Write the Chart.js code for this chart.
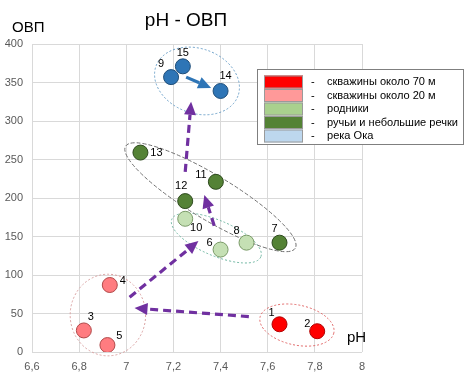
<!DOCTYPE html>
<html><head><meta charset="utf-8">
<script src="https://cdn.jsdelivr.net/npm/chart.js@4/dist/chart.umd.min.js"></script>
<style>html,body{margin:0;padding:0;background:#fff}#wrap{width:466px;height:377px;position:relative}</style>
</head><body><div id="wrap"><canvas id="c" width="466" height="377"></canvas></div>
<script>
// ---- data ----
const seriesNames = ['скважины около 70 м','скважины около 20 м','родники','ручьи и небольшие речки','река Ока'];
const labels70 = ['1','2'];      const pH70 = [7.65, 7.81];            const orp70 = [36, 27];
const labels20 = ['3','4','5'];  const pH20 = [6.82, 6.93, 6.92];      const orp20 = [28, 87, 9];
const labelsSpr = ['6','8','10']; const pHSpr = [7.40, 7.51, 7.25];   const orpSpr = [133, 142, 173];
const labelsStr = ['7','11','12','13']; const pHStr = [7.65, 7.38, 7.25, 7.06]; const orpStr = [142, 221, 196, 259];
const labelsOka = ['9','14','15']; const pHOka = [7.19, 7.40, 7.24]; const orpOka = [357, 339, 371];
const xTickValues = [6.6, 6.8, 7.0, 7.2, 7.4, 7.6, 7.8, 8.0];
const xTickLabels = ['6,6','6,8','7','7,2','7,4','7,6','7,8','8'];
// arrows (from pH, from ORP, to pH, to ORP)
const arrowsPurple = [[7.52,46,7.035,57],[7.014,71,7.306,144],[7.373,164,7.331,204],[7.25,234,7.275,325]];
const arrowBlue = [7.254,357,7.36,343];
// group ellipses: centre pH, centre ORP, half-width pH, half-height ORP
const ellipseCentres = [[7.724,35],[6.922,48],[7.382,148],[7.357,201],[7.30,352]];
const ellipseHalfAxes = [[0.16,26],[0.16,53],[0.205,23],[0.42,29],[0.185,42]];

const pointColors = ['#FF0000','#FF7C80','#C5E0B4','#548235','#2E75B6'];
const borderColors = ['#B00000','#B04848','#7A9A68','#2E4A1E','#1F4E79'];
const swatchColors = ['#FF0000','#FF9999','#A9D18E','#548235','#BDD7EE'];
const ellipseStyle = [
  {color:'#E06666', dash:[2,2], rot:12},
  {color:'#D9A0A0', dash:[2,2], rot:0},
  {color:'#6DB5A0', dash:[2,2], rot:23},
  {color:'#707070', dash:[4,2], rot:31},
  {color:'#6A9FC8', dash:[2,2], rot:20}
];
const labelOffsets = {
  '1':[-8,-11],'2':[-10,-7],'3':[7,-13],'4':[13,-4],'5':[12,-9],'6':[-11,-7],'10':[11,9],'12':[-4,-15],
  '8':[-10,-12],'7':[-5,-14],'11':[-15,-7],'13':[16,0],'9':[-10,-13],'15':[0,-13],'14':[5,-15]
};

function pts(xs, ys){ return xs.map((x,i)=>({x:x,y:ys[i]})); }
const groups = [
  {lab:labels70, data:pts(pH70,orp70)},
  {lab:labels20, data:pts(pH20,orp20)},
  {lab:labelsSpr, data:pts(pHSpr,orpSpr)},
  {lab:labelsStr, data:pts(pHStr,orpStr)},
  {lab:labelsOka, data:pts(pHOka,orpOka)}
];

function drawArrow(ctx, x1,y1,x2,y2, color, dash){
  const ang = Math.atan2(y2-y1, x2-x1);
  const hl = 13, hw = 6;
  const bx = x2 - hl*Math.cos(ang), by = y2 - hl*Math.sin(ang);
  ctx.save();
  ctx.strokeStyle = color; ctx.fillStyle = color; ctx.lineWidth = 3.2;
  ctx.setLineDash(dash);
  ctx.beginPath(); ctx.moveTo(x1,y1); ctx.lineTo(bx,by); ctx.stroke();
  ctx.setLineDash([]);
  ctx.beginPath();
  ctx.moveTo(x2,y2);
  ctx.lineTo(bx + hw*Math.sin(ang), by - hw*Math.cos(ang));
  ctx.lineTo(bx - hw*Math.sin(ang), by + hw*Math.cos(ang));
  ctx.closePath(); ctx.fill();
  ctx.restore();
}

const annot = {
  id:'annot',
  beforeDatasetsDraw(chart){
    const {ctx, scales:{x,y}} = chart;
    ellipseCentres.forEach((c,i)=>{
      const cx = x.getPixelForValue(c[0]), cy = y.getPixelForValue(c[1]);
      const rx = Math.abs(x.getPixelForValue(c[0]+ellipseHalfAxes[i][0]) - cx);
      const ry = Math.abs(y.getPixelForValue(c[1]+ellipseHalfAxes[i][1]) - cy);
      const st = ellipseStyle[i];
      ctx.save();
      ctx.strokeStyle = st.color; ctx.lineWidth = 1; ctx.setLineDash(st.dash);
      ctx.beginPath(); ctx.ellipse(cx, cy, rx, ry, st.rot*Math.PI/180, 0, Math.PI*2); ctx.stroke();
      ctx.restore();
    });
  },
  afterDatasetsDraw(chart){
    const {ctx, scales:{x,y}} = chart;
    arrowsPurple.forEach(a=>{
      drawArrow(ctx, x.getPixelForValue(a[0]), y.getPixelForValue(a[1]), x.getPixelForValue(a[2]), y.getPixelForValue(a[3]), '#7030A0', [8,5]);
    });
    drawArrow(ctx, x.getPixelForValue(arrowBlue[0]), y.getPixelForValue(arrowBlue[1]), x.getPixelForValue(arrowBlue[2]), y.getPixelForValue(arrowBlue[3]), '#2E75B6', []);
    // point labels
    ctx.save();
    ctx.font = '11px "Liberation Sans", Arial, sans-serif';
    ctx.fillStyle = '#000'; ctx.textAlign = 'center'; ctx.textBaseline = 'middle';
    groups.forEach(g=>{
      g.data.forEach((p,i)=>{
        const off = labelOffsets[g.lab[i]] || [0,-12];
        ctx.fillText(g.lab[i], x.getPixelForValue(p.x)+off[0], y.getPixelForValue(p.y)+off[1]);
      });
    });
    ctx.restore();
  },
  afterDraw(chart){
    const ctx = chart.ctx;
    ctx.save();
    ctx.fillStyle = '#000';
    ctx.textBaseline = 'middle';
    ctx.font = '19px "Liberation Sans", Arial, sans-serif';
    ctx.textAlign = 'center';
    ctx.fillText('pH - ОВП', 186, 21);
    ctx.font = '15px "Liberation Sans", Arial, sans-serif';
    ctx.textAlign = 'left';
    ctx.fillText('ОВП', 12, 28);
    ctx.fillText('pH', 347, 338);
    // legend
    ctx.fillStyle = '#fff'; ctx.strokeStyle = '#7F7F7F'; ctx.lineWidth = 1;
    ctx.fillRect(257.5, 69.5, 206, 75); ctx.strokeRect(257.5, 69.5, 206, 75);
    ctx.font = '12px "Liberation Sans", Arial, sans-serif';
    const w = ctx.measureText(seriesNames[3]).width;
    const fs = Math.min(12, 12 * 131 / w);
    ctx.font = fs.toFixed(2) + 'px "Liberation Sans", Arial, sans-serif';
    seriesNames.forEach((n,i)=>{
      const cy = 82 + i*13.5;
      ctx.fillStyle = swatchColors[i];
      ctx.fillRect(264, cy-6.5, 39, 13);
      ctx.strokeStyle = '#9A9A9A'; ctx.strokeRect(264.5, cy-6, 38, 12);
      ctx.fillStyle = '#000';
      ctx.fillText('-', 311, cy);
      ctx.fillText(n, 327, cy);
    });
    ctx.restore();
  }
};

new Chart(document.getElementById('c'), {
  type:'scatter',
  data:{ datasets: groups.map((g,i)=>({
    label: seriesNames[i], data: g.data,
    backgroundColor: pointColors[i], borderColor: borderColors[i], borderWidth: 1,
    pointRadius: 7.5, pointHoverRadius: 7.5
  }))},
  options:{
    responsive:false, animation:false, devicePixelRatio:1,
    layout:{padding:{top:44, right:104, left:0, bottom:0}},
    plugins:{legend:{display:false}, tooltip:{enabled:false}, title:{display:false}},
    scales:{
      x:{ type:'linear', min:6.6, max:8,
        afterBuildTicks(s){ s.ticks = xTickValues.map(v=>({value:v})); },
        afterFit(s){ s.height = 25; },
        grid:{color:'#D9D9D9', lineWidth:1, drawTicks:false},
        border:{display:false},
        ticks:{ padding:8, color:'#595959', font:{size:11, family:'"Liberation Sans", Arial, sans-serif'},
          callback:(v,i)=> xTickLabels[i], maxRotation:0, autoSkip:false }
      },
      y:{ min:0, max:400,
        afterFit(s){ s.width = 32; },
        grid:{color:'#D9D9D9', lineWidth:1, drawTicks:false},
        border:{display:false},
        ticks:{ stepSize:50, padding:9, color:'#595959', font:{size:11, family:'"Liberation Sans", Arial, sans-serif'} }
      }
    }
  },
  plugins:[annot]
});
</script></body></html>
